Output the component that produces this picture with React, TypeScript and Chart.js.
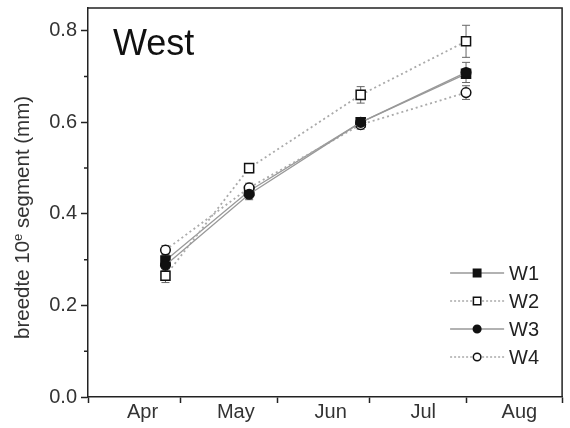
import React, { useEffect, useRef } from 'react';
import { Chart, registerables } from 'chart.js';

Chart.register(...registerables);

// ---- data ----
const sampleDays = [25, 52, 88, 122]; // days since 1 April
const monthBounds = [0, 30, 61, 91, 122, 153];
const monthLabelPos = [17.6, 47.7, 78.3, 108.2, 139.2];
const monthLabels = ['Apr', 'May', 'Jun', 'Jul', 'Aug'];
const yTicks = [0, 0.1, 0.2, 0.3, 0.4, 0.5, 0.6, 0.7, 0.8];
const yMajor = [0, 0.2, 0.4, 0.6, 0.8];
const yMinor = [0.1, 0.3, 0.5, 0.7];
const seriesNames = ['W1', 'W2', 'W3', 'W4'];
const w1 = [0.298, 0.45, 0.6, 0.706];
const w2 = [0.265, 0.5, 0.66, 0.777];
const w3 = [0.288, 0.443, 0.6, 0.709];
const w4 = [0.321, 0.457, 0.595, 0.665];
const w1Err = [0.012, 0.01, 0.01, 0.01];
const w2Err = [0.015, 0.01, 0.018, 0.035];
const w3Err = [0.012, 0.012, 0.01, 0.022];
const w4Err = [0.01, 0.01, 0.01, 0.015];
const panelTitle = 'West';

const seriesValues = [w1, w2, w3, w4];
const seriesErrors = [w1Err, w2Err, w3Err, w4Err];
const drawOrder = [3, 2, 0, 1]; // lower = drawn on top
const FONT = '"Liberation Sans", Arial, sans-serif';

const styles = [
  { shape: 'rect', filled: true, dashed: false },
  { shape: 'rect', filled: false, dashed: true },
  { shape: 'circle', filled: true, dashed: false },
  { shape: 'circle', filled: false, dashed: true },
];

function drawMarker(ctx: CanvasRenderingContext2D, shape: string, filled: boolean, x: number, y: number, half: number) {
  ctx.save();
  ctx.beginPath();
  if (shape === 'rect') ctx.rect(x - half, y - half, half * 2, half * 2);
  else ctx.arc(x, y, half, 0, Math.PI * 2);
  ctx.fillStyle = filled ? '#111' : '#fff';
  ctx.fill();
  ctx.lineWidth = 1.5;
  ctx.strokeStyle = '#111';
  ctx.stroke();
  ctx.restore();
}

const errorBarPlugin = {
  id: 'errorBars',
  beforeDatasetsDraw(chart: any) {
    const { ctx } = chart;
    const xs = chart.scales.x;
    const ys = chart.scales.y;
    ctx.save();
    ctx.strokeStyle = '#666';
    ctx.lineWidth = 1;
    seriesValues.forEach((vals, i) => {
      vals.forEach((v, j) => {
        const e = seriesErrors[i][j];
        const px = xs.getPixelForValue(sampleDays[j]);
        const t = ys.getPixelForValue(v + e);
        const b = ys.getPixelForValue(v - e);
        ctx.beginPath();
        ctx.moveTo(px, t);
        ctx.lineTo(px, b);
        ctx.moveTo(px - 4, t);
        ctx.lineTo(px + 4, t);
        ctx.moveTo(px - 4, b);
        ctx.lineTo(px + 4, b);
        ctx.stroke();
      });
    });
    ctx.restore();
  },
};

const decorPlugin = {
  id: 'decor',
  afterDraw(chart: any) {
    const { ctx, chartArea } = chart;
    const ys = chart.scales.y;
    const { left, right, top, bottom } = chartArea;
    ctx.save();
    // frame top & right
    ctx.strokeStyle = '#222';
    ctx.lineWidth = 1.5;
    ctx.beginPath();
    ctx.moveTo(left, top);
    ctx.lineTo(right, top);
    ctx.lineTo(right, bottom);
    ctx.stroke();
    // minor y ticks
    ctx.beginPath();
    yMinor.forEach((v) => {
      const py = ys.getPixelForValue(v);
      ctx.moveTo(left - 4, py);
      ctx.lineTo(left, py);
    });
    ctx.stroke();

    // panel title
    ctx.fillStyle = '#111';
    ctx.font = `36px ${FONT}`;
    ctx.textBaseline = 'alphabetic';
    ctx.textAlign = 'left';
    ctx.fillText(panelTitle, left + 25, top + 47);

    // y-axis title with superscript
    ctx.save();
    ctx.translate(29, (top + bottom) / 2 + 15);
    ctx.rotate(-Math.PI / 2);
    ctx.fillStyle = '#333';
    const p1 = 'breedte 10';
    const p2 = 'e';
    const p3 = ' segment (mm)';
    ctx.font = `20.5px ${FONT}`;
    const w1t = ctx.measureText(p1).width;
    const w3t = ctx.measureText(p3).width;
    ctx.font = `13px ${FONT}`;
    const w2t = ctx.measureText(p2).width;
    let sx = -(w1t + w2t + w3t) / 2;
    ctx.font = `20.5px ${FONT}`;
    ctx.fillText(p1, sx, 0);
    sx += w1t;
    ctx.font = `13px ${FONT}`;
    ctx.fillText(p2, sx, -7.5);
    sx += w2t;
    ctx.font = `20.5px ${FONT}`;
    ctx.fillText(p3, sx, 0);
    ctx.restore();

    // legend
    seriesNames.forEach((name, i) => {
      const st = styles[i];
      const ry = bottom - 124 + i * 28;
      const lx0 = right - 112;
      const lx1 = right - 58;
      ctx.save();
      ctx.strokeStyle = st.dashed ? '#aaa' : '#999';
      ctx.lineWidth = st.dashed ? 1.6 : 1.3;
      ctx.setLineDash(st.dashed ? [2, 2] : []);
      ctx.beginPath();
      ctx.moveTo(lx0, ry);
      ctx.lineTo(lx1, ry);
      ctx.stroke();
      ctx.restore();
      drawMarker(ctx, st.shape, st.filled, (lx0 + lx1) / 2, ry, st.shape === 'rect' ? 3.7 : 3.8);
      ctx.fillStyle = '#222';
      ctx.font = `20px ${FONT}`;
      ctx.textBaseline = 'middle';
      ctx.textAlign = 'left';
      ctx.fillText(name, right - 53, ry + 1);
    });
    ctx.restore();
  },
};

export default function App() {
  const ref = useRef<HTMLCanvasElement | null>(null);

  useEffect(() => {
    if (!ref.current) return;
    const datasets = seriesNames.map((name, i) => {
      const st = styles[i];
      return {
        label: name,
        order: drawOrder[i],
        data: seriesValues[i].map((v, j) => ({ x: sampleDays[j], y: v })),
        borderColor: st.dashed ? '#aaa' : '#999',
        borderWidth: st.dashed ? 1.8 : 1.3,
        borderDash: st.dashed ? [2, 3] : [],
        pointStyle: st.shape,
        pointRadius: st.shape === 'rect' ? 6.4 : 4.8,
        pointBackgroundColor: st.filled ? '#111' : '#fff',
        pointBorderColor: '#111',
        pointBorderWidth: 1.5,
        fill: false,
        tension: 0,
      };
    });

    const xTickVals = [...monthBounds, ...monthLabelPos].sort((a, b) => a - b);

    const chart = new Chart(ref.current, {
      type: 'line',
      data: { datasets: datasets as any },
      options: {
        animation: false,
        responsive: false,
        devicePixelRatio: 1,
        layout: { padding: { top: 7, right: 4, left: 0, bottom: 0 } },
        plugins: {
          legend: { display: false },
          tooltip: { enabled: false },
        },
        scales: {
          x: {
            type: 'linear',
            min: 0,
            max: 153,
            afterBuildTicks: (scale: any) => {
              scale.ticks = xTickVals.map((v) => ({ value: v }));
            },
            afterFit: (scale: any) => {
              scale.height = 31;
              scale.paddingLeft = 0;
              scale.paddingRight = 0;
            },
            border: { display: true, color: '#222', width: 1.5 },
            grid: {
              drawOnChartArea: false,
              drawTicks: true,
              tickLength: 6,
              tickWidth: 1.5,
              tickColor: (c: any) => (monthBounds.includes(c.tick?.value) ? '#222' : 'rgba(0,0,0,0)'),
            },
            ticks: {
              autoSkip: false,
              maxRotation: 0,
              minRotation: 0,
              padding: -3,
              color: '#333',
              font: { family: FONT, size: 20 },
              callback: (v: any) => {
                const k = monthLabelPos.indexOf(Number(v));
                return k >= 0 ? monthLabels[k] : '';
              },
            },
          },
          y: {
            type: 'linear',
            min: 0,
            max: 0.85,
            afterBuildTicks: (scale: any) => {
              scale.ticks = yTicks.map((v) => ({ value: v }));
            },
            afterFit: (scale: any) => {
              scale.width = 88;
              scale.paddingTop = 0;
              scale.paddingBottom = 0;
            },
            border: { display: true, color: '#222', width: 1.5 },
            grid: {
              drawOnChartArea: false,
              drawTicks: true,
              tickLength: 7,
              tickWidth: 1.5,
              tickColor: (c: any) =>
                yMajor.some((m) => Math.abs(m - (c.tick?.value ?? -1)) < 1e-6) ? '#222' : 'rgba(0,0,0,0)',
            },
            ticks: {
              autoSkip: false,
              padding: 4,
              color: '#333',
              font: { family: FONT, size: 20 },
              callback: (v: any) => {
                const n = Number(v);
                return yMajor.some((m) => Math.abs(m - n) < 1e-6) ? n.toFixed(1) : '';
              },
            },
          },
        },
      },
      plugins: [errorBarPlugin, decorPlugin],
    });
    return () => chart.destroy();
  }, []);

  return (
    <div style={{ position: 'fixed', left: 0, top: 0, width: 570, height: 428, background: '#fff' }}>
      <canvas ref={ref} width={570} height={428} style={{ display: 'block' }} />
    </div>
  );
}
